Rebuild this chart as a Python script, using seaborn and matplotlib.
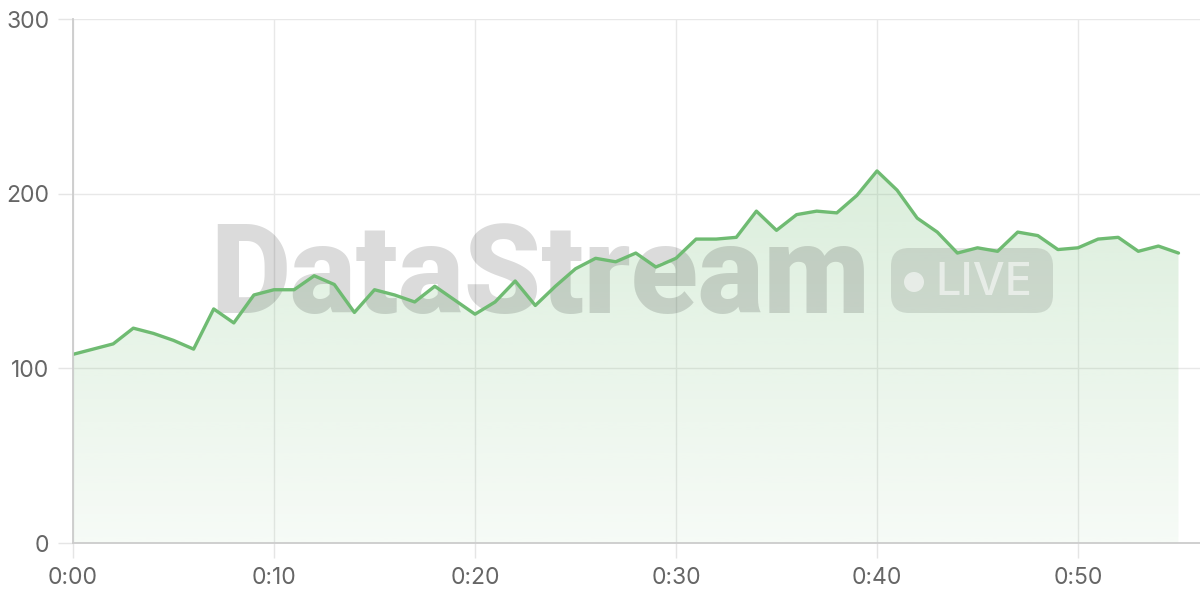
import numpy as np
import pandas as pd
import matplotlib
matplotlib.use("Agg")
import matplotlib.pyplot as plt
import seaborn as sns
from matplotlib.patches import FancyBboxPatch, Circle
from matplotlib.transforms import Affine2D
from matplotlib.colors import to_rgb

# ---- data ----
minutes = list(range(56))
values = [108, 111, 114, 123, 120, 116, 111, 134, 126, 142,
          145, 145, 153, 148, 132, 145, 142, 138, 147, 139,
          131, 138, 150, 136, 147, 157, 163, 161, 166, 158,
          163, 174, 174, 175, 190, 179, 188, 190, 189, 199,
          213, 202, 186, 178, 166, 169, 167, 178, 176, 168,
          169, 174, 175, 167, 170, 166]
x_ticks = [0, 10, 20, 30, 40, 50]
x_labels = ["0:00", "0:10", "0:20", "0:30", "0:40", "0:50"]
y_ticks = [0, 100, 200, 300]
y_labels = ["0", "100", "200", "300"]
watermark = "DataStream"
badge = "LIVE"

LINE = "#6fbb72"

sns.set_theme(style="white")
plt.rcParams['font.family'] = ['Inter', 'DejaVu Sans']

fig = plt.figure(figsize=(12, 6), dpi=100)
ax = fig.add_axes([73 / 1200, 57 / 600, 1127 / 1200, 524 / 600])

df = pd.DataFrame({"minute": minutes, "value": values})
sns.lineplot(data=df, x="minute", y="value", ax=ax, color=LINE, lw=2.4, zorder=6)

# gradient fill under line
poly = ax.fill_between(minutes, values, 0, facecolor="none", edgecolor="none")
path = poly.get_paths()[0]
r, g, b = to_rgb(LINE)
n = 256
alphas = np.linspace(0.06, 0.25, n)
img = np.zeros((n, 1, 4))
img[:, 0, 0] = r
img[:, 0, 1] = g
img[:, 0, 2] = b
img[:, 0, 3] = alphas
top = max(values)
im = ax.imshow(img, extent=[minutes[0], minutes[-1], 0, top], origin="lower",
               aspect="auto", zorder=2, interpolation="bilinear")
im.set_clip_path(path, ax.transData)

ax.set_xlim(0, 56.07)
ax.set_ylim(0, 300)
ax.set_xticks(x_ticks)
ax.set_xticklabels(x_labels)
ax.set_yticks(y_ticks)
ax.set_yticklabels(y_labels)
ax.set_xlabel("")
ax.set_ylabel("")

ax.grid(True, color="#e8e8e8", lw=1.0)
ax.set_axisbelow(True)
for s in ["top", "right"]:
    ax.spines[s].set_visible(False)
for s in ["left", "bottom"]:
    ax.spines[s].set_color("#cccccc")
    ax.spines[s].set_linewidth(1.3)
    ax.spines[s].set_zorder(7)
ax.tick_params(axis="both", which="both", length=11, width=1, color="#e5e5e5",
               labelcolor="#666666", labelsize=16.5, pad=6,
               bottom=True, left=True)

# watermark in image-pixel coordinates
trans = Affine2D().scale(1, -1).translate(0, 600)
fig.canvas.draw()
renderer = fig.canvas.get_renderer()


def fit_text(x, y, s, width, size, **kw):
    t = ax.text(x, y, s, transform=trans, fontsize=size, ha="left",
                va="baseline", **kw)
    w = t.get_window_extent(renderer).width
    t.set_fontsize(size * width / w)
    return t


fit_text(210, 313, watermark, 660, 86, fontweight=900,
         family=["Roboto", "DejaVu Sans"], color="black", alpha=0.14, zorder=4)
box = FancyBboxPatch((891, 248), 162, 65, boxstyle="round,pad=0,rounding_size=18",
                     transform=trans, facecolor="black", edgecolor="none",
                     alpha=0.11, zorder=4)
ax.add_patch(box)
ax.add_patch(Circle((914, 282), 10, transform=trans, facecolor="white",
                    edgecolor="none", alpha=0.55, zorder=5))
fit_text(935, 295, badge, 97, 31, fontweight=500,
         family=["Inter", "DejaVu Sans"], color="white", alpha=0.55, zorder=5)

fig.savefig("out.png", dpi=100, facecolor="white")
